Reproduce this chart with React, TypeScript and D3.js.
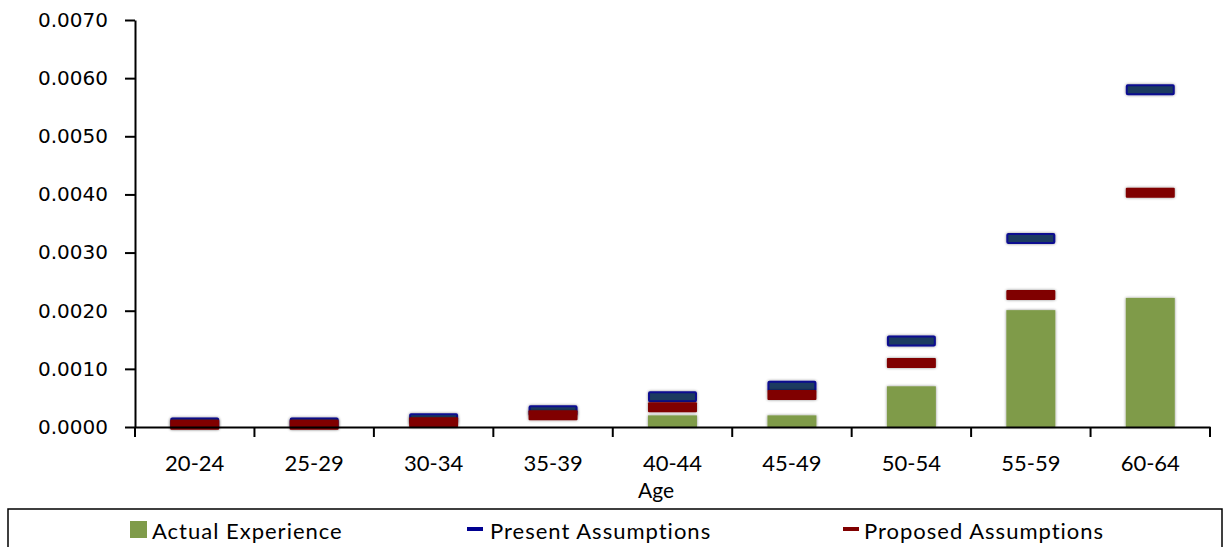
import React, { useEffect, useRef } from "react";
import * as d3 from "d3";

const categories = ["20-24", "25-29", "30-34", "35-39", "40-44", "45-49", "50-54", "55-59", "60-64"];
const actualExperience = [0, 0, 0, 0, 0.0002, 0.0002, 0.0007, 0.00201, 0.00222];
const presentAssumptions = [0.00007, 0.00007, 0.00014, 0.00028, 0.00052, 0.0007, 0.00148, 0.00324, 0.0058];
const proposedAssumptions = [0.00004, 0.00004, 0.00008, 0.0002, 0.00034, 0.00055, 0.0011, 0.00227, 0.00403];
const yTicks = [0, 0.001, 0.002, 0.003, 0.004, 0.005, 0.006, 0.007];
const legendLabels = ["Actual Experience", "Present Assumptions", "Proposed Assumptions"];

const W = 1225;
const H = 547;
const left = 135;
const right = 1210;
const top = 20;
const bottom = 427;

const GREEN = "#7f9b4a";
const BLUE_FILL = "#1c3a60";
const BLUE_STROKE = "#0a0a90";
const RED = "#800000";

export default function App() {
  const ref = useRef<SVGSVGElement>(null);

  useEffect(() => {
    const svg = d3.select(ref.current);
    svg.selectAll("*").remove();

    const defs = svg.append("defs");
    const f = defs.append("filter").attr("id", "sh").attr("x", "-20%").attr("y", "-50%").attr("width", "140%").attr("height", "200%");
    f.append("feGaussianBlur").attr("in", "SourceAlpha").attr("stdDeviation", 1.6).attr("result", "b");
    f.append("feComponentTransfer").attr("in", "b").attr("result", "c")
      .append("feFuncA").attr("type", "linear").attr("slope", 0.45);
    const m = f.append("feMerge");
    m.append("feMergeNode").attr("in", "c");
    m.append("feMergeNode").attr("in", "SourceGraphic");

    const x = d3.scaleBand<string>().domain(categories).range([left, right]).paddingInner(0.59).paddingOuter(0.295);
    const xc = d3.scaleBand<string>().domain(categories).range([left, right]);
    const y = d3.scaleLinear().domain([0, 0.007]).range([bottom, top]);

    const g = svg.append("g");

    g.selectAll("rect.bar")
      .data(categories)
      .join("rect")
      .attr("class", "bar")
      .attr("x", (d) => x(d)!)
      .attr("width", x.bandwidth())
      .attr("y", (d, i) => y(actualExperience[i]))
      .attr("height", (d, i) => bottom - y(actualExperience[i]))
      .attr("fill", GREEN)
      .attr("filter", "url(#sh)");

    const mh = 9;
    g.selectAll("rect.present")
      .data(categories)
      .join("rect")
      .attr("class", "present")
      .attr("x", (d) => x(d)! + 1)
      .attr("width", x.bandwidth() - 2)
      .attr("y", (d, i) => y(presentAssumptions[i]) - mh / 2)
      .attr("height", mh)
      .attr("fill", BLUE_FILL)
      .attr("stroke", BLUE_STROKE)
      .attr("stroke-width", 2)
      .attr("rx", 1)
      .attr("filter", "url(#sh)");

    g.selectAll("rect.proposed")
      .data(categories)
      .join("rect")
      .attr("class", "proposed")
      .attr("x", (d) => x(d)!)
      .attr("width", x.bandwidth())
      .attr("y", (d, i) => y(proposedAssumptions[i]) - (mh + 1) / 2)
      .attr("height", mh + 1)
      .attr("fill", RED)
      .attr("rx", 1)
      .attr("filter", "url(#sh)");

    const ya = svg.append("g").attr("transform", `translate(${left},0)`)
      .call(d3.axisLeft(y).tickValues(yTicks).tickFormat(d3.format(".4f")).tickSize(10).tickSizeOuter(0));
    ya.select(".domain").attr("stroke", "#000").attr("stroke-width", 2);
    ya.selectAll(".tick line").attr("stroke", "#000").attr("stroke-width", 2);
    ya.selectAll(".tick text").attr("font-family", "DejaVu Sans").attr("font-size", 20).attr("fill", "#000").attr("x", -27);

    const xa = svg.append("g").attr("transform", `translate(0,${bottom})`)
      .call(d3.axisBottom(xc).tickSize(0).tickSizeOuter(0));
    xa.select(".domain").attr("stroke", "#000").attr("stroke-width", 2);
    xa.selectAll(".tick text").attr("font-family", "Lato").attr("font-size", 22).attr("fill", "#000").attr("y", 44).attr("dy", 0);
    const bounds = [...categories.map((c) => xc(c)!), right];
    svg.append("g").selectAll("line").data(bounds).join("line")
      .attr("x1", (d) => d).attr("x2", (d) => d)
      .attr("y1", bottom).attr("y2", bottom + 10)
      .attr("stroke", "#000").attr("stroke-width", 2);

    svg.append("text").attr("x", 656).attr("y", 498).attr("text-anchor", "middle")
      .attr("font-family", "Lato").attr("font-size", 21).text("Age");

    svg.append("rect").attr("x", 8).attr("y", 509).attr("width", 1214).attr("height", 60)
      .attr("fill", "none").attr("stroke", "#000").attr("stroke-width", 1.5);
    const lg = svg.append("g");
    const lx = [130, 467, 843];
    lg.append("rect").attr("x", lx[0]).attr("y", 521).attr("width", 17).attr("height", 17).attr("fill", GREEN);
    lg.append("rect").attr("x", lx[1]).attr("y", 527).attr("width", 16).attr("height", 4).attr("fill", "#000090");
    lg.append("rect").attr("x", lx[2]).attr("y", 527).attr("width", 16).attr("height", 4).attr("fill", RED);
    const tx = [152, 490, 864];
    lg.selectAll("text").data(legendLabels).join("text")
      .attr("x", (d, i) => tx[i]).attr("y", 539)
      .attr("font-family", "Lato").attr("font-size", 22).attr("letter-spacing", 1)
      .attr("fill", "#000").text((d) => d);
  }, []);

  return (
    <div style={{ position: "absolute", left: 0, top: 0 }}>
      <svg ref={ref} width={W} height={H} style={{ display: "block", background: "#fff" }} />
    </div>
  );
}
